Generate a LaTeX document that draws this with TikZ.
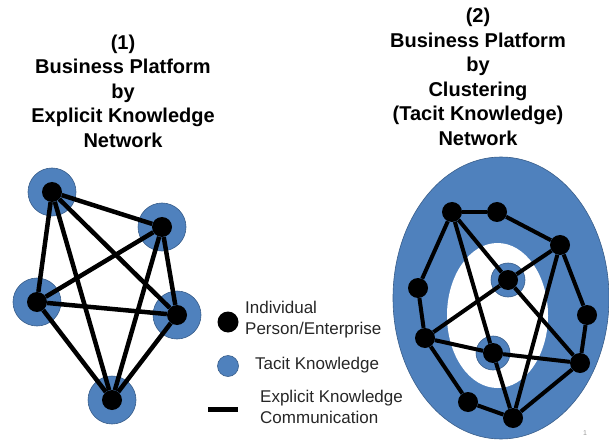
\documentclass[tikz,border=0pt]{standalone}
\usepackage{fontspec}
\setmainfont{Liberation Sans}
\usetikzlibrary{positioning}
\definecolor{tacitblue}{RGB}{79,129,189}
\definecolor{tacitedge}{RGB}{56,93,138}

\begin{document}
\begin{tikzpicture}[x=1pt, y=-1pt,
    person/.style={circle, fill=black, minimum size=20pt, inner sep=0pt},
    tacit/.style={circle, fill=tacitblue, draw=tacitedge, line width=0.6pt, minimum size=48pt, inner sep=0pt},
    link/.style={line width=4.5pt},
    heading/.style={align=center, font=\bfseries\fontsize{20}{24.5}\selectfont},
    keytext/.style={anchor=west, align=left, inner sep=0pt, text=black!85, font=\fontsize{17}{21}\selectfont}]
    \useasboundingbox (0,0) rectangle (609,443);

    % Titles
    \node[heading] (title1) at (123,91) {(1)\\Business Platform\\by\\Explicit Knowledge\\Network};
    \node[heading] (title2) at (478,77) {(2)\\Business Platform\\by\\Clustering\\(Tacit Knowledge)\\Network};

    % Explicit knowledge network (1)
    \foreach \i/\x/\y in {1/52/192, 2/162/227, 3/37/302, 4/177/315, 5/112/400}
        \node[tacit] (t\i) at (\x,\y) {};
    \foreach \i/\x/\y in {1/52/192, 2/162/227, 3/37/302, 4/177/315, 5/112/400}
        \node[person] (e\i) at (\x,\y) {};
    \foreach \a/\b in {1/2, 1/3, 1/4, 1/5, 2/3, 2/4, 2/5, 3/4, 3/5, 4/5}
        \draw[link] (e\a) -- (e\b);

    % Clustering network (2)
    \fill[tacitblue, draw=tacitedge, line width=0.6pt] (501,298) ellipse [x radius=108, y radius=141];
    \fill[white] (497.5,315.5) ellipse [x radius=50.5, y radius=72.5];
    \node[tacit, minimum size=34pt] (t6) at (508,280) {};
    \node[tacit, minimum size=34pt] (t7) at (493,353) {};
    \foreach \i/\x/\y in {1/452/212, 2/497/212, 3/560/245, 4/508/280, 5/418/288, 6/587/315,
                          7/425/338, 8/493/353, 9/580/363, 10/468/402, 11/513/418}
        \node[person] (c\i) at (\x,\y) {};
    % outer ring
    \foreach \a/\b in {1/2, 2/3, 3/6, 6/9, 9/11, 11/10, 10/7, 7/5, 5/1}
        \draw[link, line width=4pt] (c\a) -- (c\b);
    % inner star
    \foreach \a/\b in {1/4, 4/9, 3/4, 4/7, 1/8, 8/11, 7/8, 8/9, 3/11}
        \draw[link, line width=4pt] (c\a) -- (c\b);

    % Legend
    \node[person, minimum size=21pt] (keyperson) at (228,322) {};
    \node[keytext] (keypersontext) at (245,320) {Individual\\Person/Enterprise};
    \node[tacit, minimum size=21pt] (keytacit) at (228,366) {};
    \node[keytext] (keytacittext) at (255,365) {Tacit Knowledge};
    \coordinate (keylink) at (208,409);
    \draw[line width=5pt] (keylink) -- ++(30,0);
    \node[keytext] (keylinktext) at (260,407) {Explicit Knowledge\\Communication};

    % page number
    \node[text=black!40, font=\fontsize{7}{8}\selectfont] (pagenum) at (585,433) {1};

\end{tikzpicture}
\end{document}
